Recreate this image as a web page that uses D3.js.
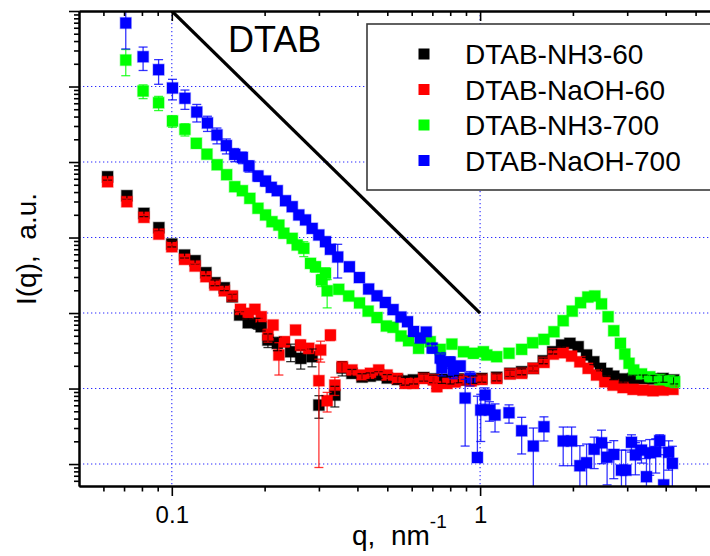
<!DOCTYPE html>
<html><head><meta charset="utf-8">
<script src="https://cdn.jsdelivr.net/npm/d3@7/dist/d3.min.js"></script>
<style>
body{margin:0;background:#fff}
svg{display:block}
text{font-family:"Liberation Sans",Arial,sans-serif;fill:#000}
</style>
</head><body>
<svg id="chart" width="710" height="556"></svg>
<script>
// ---------------- data ----------------
const seriesNames = ["DTAB-NH3-60", "DTAB-NaOH-60", "DTAB-NH3-700", "DTAB-NaOH-700"];
const seriesColors = ["#000000", "#ff0000", "#00ff00", "#0000ff"];

const qNH3_60 = [0.0619,0.0715,0.0812,0.0908,0.100,0.110,0.119,0.129,0.138,0.148,0.157,0.166,0.177,0.190,0.195,0.205,0.220,0.243,0.262,0.285,0.300,0.338,0.357,0.384,0.414,0.440,0.469,0.500,0.540,0.572,0.608,0.656,0.706,0.750,0.800,0.850,0.900,0.950,1.013,1.132,1.250,1.364,1.488,1.603,1.720,1.838,1.956,2.080,2.215,2.338,2.458,2.582,2.714,2.909,3.134,3.378,3.638,3.920,4.245];
const iNH3_60 = [6380,3580,2090,1350,820,586,493,342,252,216,164,94.1,74.4,73.1,65.9,43.9,39.7,30.7,25.1,26.4,6.04,8.20,18.7,15.9,14.2,14.6,15.1,13.8,13.2,12.6,13.0,14.0,13.4,13.2,13.0,13.4,13.0,13.2,13.6,14.1,15.9,16.7,18.5,23.3,30.7,37.7,39.7,35.8,27.8,22.6,18.5,15.9,14.6,13.4,13.6,13.6,13.4,13.6,13.0];
const eNH3_60 = [600,350,200,130,70,50,45,30,22,18,15,9,10,12,8,9,8,8,7,7,2,2.5,4,2,1.5,1.5,1.5,1.5,1.5,1.5,1.5,1.5,1.5,1.5,1.5,1.5,1.5,1.5,1.5,1.5,1.5,1.5,1.5,2,2,2.5,2.5,2.5,2,2,1.5,1.5,1.5,1.5,1.5,1.5,1.5,1.5,1.5];

const qNaOH_60 = [0.0619,0.0715,0.0812,0.0908,0.100,0.110,0.119,0.129,0.138,0.148,0.157,0.167,0.177,0.186,0.195,0.205,0.213,0.2225,0.232,0.252,0.2615,0.278,0.300,0.304,0.319,0.327,0.338,0.357,0.384,0.414,0.441,0.469,0.499,0.538,0.572,0.608,0.656,0.706,0.724,0.780,0.830,0.881,0.935,1.013,1.132,1.250,1.364,1.488,1.611,1.727,1.860,1.981,2.107,2.241,2.386,2.538,2.700,2.909,3.134,3.378,3.638,3.920,4.223];
const iNaOH_60 = [5480,2980,1850,1110,755,514,419,303,235,197,168,112,99.1,112,89.3,51.1,69.3,27.8,41.7,59.5,37.7,34.1,12.7,32.4,6.89,51.1,11.1,19.5,17.6,15.1,15.9,17.6,15.1,13.6,11.7,11.7,13.6,13.0,10.6,11.7,12.2,13.0,12.6,13.2,13.6,15.6,15.9,18.5,22.2,28.6,29.8,26.9,22.6,18.5,15.1,12.3,11.1,10.3,9.75,9.55,9.35,9.55,9.75];
const eNaOH_60 = [500,280,170,100,65,45,35,25,20,16,15,10,9,10,8,10,8,12.7,6,7,6,5,11.8,10,2,8,3,3,2,2,1.5,1.5,1.5,1.5,1.5,1.5,1.5,1.5,1.5,1.5,1.5,1.5,1.5,1.5,1.5,1.5,1.5,1.5,2,2,2,2,2,1.5,1.5,1.5,1,1,1,1,1,1,1];

const qNH3_700 = [0.0709,0.0807,0.0906,0.1005,0.1103,0.1201,0.1300,0.1403,0.1506,0.160,0.1694,0.1791,0.1903,0.2014,0.2113,0.2225,0.2309,0.2458,0.2551,0.2680,0.2818,0.2924,0.3058,0.3151,0.3191,0.3479,0.3748,0.4063,0.4333,0.4630,0.4965,0.5220,0.5538,0.5861,0.6316,0.6890,0.7423,0.8100,0.8830,0.9512,1.025,1.051,1.132,1.241,1.364,1.481,1.611,1.736,1.860,1.990,2.118,2.236,2.356,2.477,2.601,2.714,2.853,2.947,3.042,3.150,3.338,3.550,3.825,4.120,4.277];
const iNH3_700 = [224000,87100,61000,34900,27100,17700,12700,9200,6790,4710,4170,3300,2440,1990,1620,1460,1140,975,796,719,455,410,274,336,197,206,168,136,106,87.1,67.3,64.7,49.6,43.0,34.1,41.7,33.0,38.8,30.7,29.3,30.7,27.8,26.4,29.3,33.0,40.4,44.8,56.5,79.1,106,137,163,168,132,89.3,58.3,39.7,28.6,21.6,17.6,15.6,14.3,13.2,12.7,12.3];
const eNH3_700 = [85000,18000,13000,6000,5000,2500,1500,1000,700,500,450,350,250,200,170,150,150,110,100,160,60,60,50,60,80,20,15,12,10,8,6,6,5,4,4,5,4,5,4,4,3,3,3,3,3,3,3,3,3,4,4,5,5,4,3,2,2,2,2,2,2,2,2,2,2];

const qNaOH_700 = [0.0709,0.0807,0.0906,0.1005,0.1103,0.1205,0.1305,0.1401,0.1503,0.160,0.1694,0.178,0.1903,0.2014,0.2102,0.2198,0.2338,0.2458,0.2582,0.2715,0.2853,0.2998,0.3151,0.3270,0.3453,0.3768,0.406,0.435,0.463,0.4928,0.5220,0.5538,0.5815,0.6083,0.6396,0.669,0.699,0.7423,0.7518,0.7997,0.8196,0.862,0.8943,0.928,0.980,1.005,1.038,1.072,1.118,1.241,1.364,1.488,1.611,1.860,1.981,2.107,2.215,2.344,2.477,2.582,2.714,2.874,2.968,3.097,3.190,3.338,3.464,3.550,3.712,3.825,3.940,4.089,4.204];
const iNaOH_700 = [693000,248000,167000,95500,69800,45900,32900,22800,16500,12600,11500,8850,6530,5600,4620,4170,3070,2560,1990,1710,1320,1080,880,698,552,410,295,208,169,138,111,88.5,76.7,56.9,46.7,56.0,34.4,25.4,18.7,22.4,16.5,19.9,7.48,13.8,1.22,5.19,8.20,5.19,4.46,4.78,2.76,1.73,3.12,2.02,2.02,0.95,1.04,1.57,1.91,1.23,1.34,0.83,0.83,1.94,1.32,1.53,0.68,1.41,1.46,2.04,0.53,1.43,1.02];
const eNaOH_700 = [379000,85000,60000,29000,20000,12000,7500,5400,3700,2500,2000,1500,1000,800,600,500,400,300,250,200,150,120,100,80,261,40,30,20,15,12,10,8,8,6,6,6,5,4,4,4,3,3,5.75,3,6.7,3.2,2,1.5,1.8,1.3,1.4,1.27,1.1,1.07,1.07,0.8,0.8,0.7,0.9,0.7,0.7,0.7,0.7,0.5,0.6,0.5,0.5,0.7,0.7,0.4,0.8,0.6,0.7];

// q^-4 guide line
const guideQ = [0.1, 1];
const guideI = [1e6, 1e2];

// axis ticks & labels
const xMajorTicks = [0.1, 1];
const xTickLabels = ["0.1", "1"];
const xMinorTicks = [0.06,0.07,0.08,0.09,0.2,0.3,0.4,0.5,0.6,0.7,0.8,0.9,2,3,4,5,6];
const yMajorTicks = [1, 10, 100, 1e3, 1e4, 1e5, 1e6];
const yMinorTicks = [0.6,0.7,0.8,0.9];
[1,10,100,1e3,1e4,1e5].forEach(d => [2,3,4,5,6,7,8,9].forEach(m => yMinorTicks.push(d*m)));
const yGridValues = [1, 10, 100, 1e3, 1e4, 1e5];
const xGridValues = [0.1, 1];
const annotationText = "DTAB";
const xTitle = "q,  nm";
const xTitleSup = "-1";
const yTitle = "I(q),  a.u.";

// ---------------- drawing ----------------
const svg = d3.select("#chart");
const L = 79, R = 720, T = 11, B = 486;
const x = d3.scaleLog().domain([0.05, 6]).range([L, R]);
const y = d3.scaleLog().domain([0.512, 1e6]).range([B, T]);

svg.append("rect").attr("width", 710).attr("height", 556).attr("fill", "#fff");

svg.append("clipPath").attr("id", "plotclip")
  .append("rect").attr("x", L).attr("y", T).attr("width", R - L).attr("height", B - T);

const plot = svg.append("g").attr("clip-path", "url(#plotclip)");

// grid
plot.selectAll("line.hg").data(yGridValues).enter().append("line")
  .attr("x1", L).attr("x2", R).attr("y1", d => y(d)).attr("y2", d => y(d))
  .attr("stroke", "#2a2aff").attr("stroke-width", 1.1).attr("stroke-dasharray", "1.3,2.7");
plot.selectAll("line.vg").data(xGridValues).enter().append("line")
  .attr("y1", T).attr("y2", B).attr("x1", d => x(d)).attr("x2", d => x(d))
  .attr("stroke", "#2a2aff").attr("stroke-width", 1.1).attr("stroke-dasharray", "1.3,2.7");

// guide line
plot.append("line")
  .attr("x1", x(guideQ[0])).attr("y1", y(guideI[0]))
  .attr("x2", x(guideQ[1])).attr("y2", y(guideI[1]))
  .attr("stroke", "#000").attr("stroke-width", 3.2);

const series = [
  {q: qNH3_60, i: iNH3_60, e: eNH3_60},
  {q: qNaOH_60, i: iNaOH_60, e: eNaOH_60},
  {q: qNH3_700, i: iNH3_700, e: eNH3_700},
  {q: qNaOH_700, i: iNaOH_700, e: eNaOH_700}
].map((s, k) => ({
  color: seriesColors[k],
  pts: s.q.map((q, j) => ({q, i: s.i[j], e: s.e[j]}))
}));

const M = 11; // marker size
// markers
series.forEach(s => {
  plot.append("g").selectAll("rect").data(s.pts).enter().append("rect")
    .attr("x", d => x(d.q) - M / 2).attr("y", d => y(d.i) - M / 2)
    .attr("width", M).attr("height", M)
    .attr("fill", s.color)
    .attr("stroke", s.color).attr("stroke-opacity", 0.3).attr("stroke-width", 1.4);
});
// error bars
const cap = 4.5;
series.forEach(s => {
  const g = plot.append("g").attr("stroke", s.color).attr("stroke-width", 1.3).attr("stroke-opacity", 0.8);
  s.pts.forEach(d => {
    const yc = y(d.i);
    const yTop = y(d.i + d.e);
    const lowVal = d.i - d.e;
    const yBot = lowVal > 0 ? y(lowVal) : yc;
    g.append("line").attr("x1", x(d.q)).attr("x2", x(d.q)).attr("y1", yTop).attr("y2", yBot);
    g.append("line").attr("x1", x(d.q) - cap).attr("x2", x(d.q) + cap).attr("y1", yTop).attr("y2", yTop);
    if (lowVal > 0) g.append("line").attr("x1", x(d.q) - cap).attr("x2", x(d.q) + cap).attr("y1", yBot).attr("y2", yBot);
  });
});

// annotation
svg.append("text").attr("x", 228).attr("y", 52).attr("font-size", 36).text(annotationText);

// legend
const lg = svg.append("g");
lg.append("rect").attr("x", 367).attr("y", 24).attr("width", 360).attr("height", 166)
  .attr("fill", "#fff").attr("stroke", "#3a3a3a").attr("stroke-width", 1.6);
seriesNames.forEach((n, k) => {
  const cy = 54 + k * 35.5;
  lg.append("rect").attr("x", 424 - 5.5).attr("y", cy - 5.5).attr("width", 11).attr("height", 11).attr("fill", seriesColors[k]);
  lg.append("text").attr("x", 465).attr("y", cy + 10).attr("font-size", 28).text(n);
});

// axes
function drawAxis(gen, tx, ty) {
  const g = svg.append("g").attr("transform", `translate(${tx},${ty})`).call(gen);
  g.selectAll("path.domain").attr("stroke", "#000").attr("stroke-width", 2);
  g.selectAll(".tick line").attr("stroke", "#000").attr("stroke-width", 1.6);
  return g;
}
// bottom
const bMajor = drawAxis(d3.axisBottom(x).tickValues(xMajorTicks).tickSize(10).tickSizeOuter(0)
  .tickFormat((d, k) => xTickLabels[k]), 0, B);
bMajor.selectAll("text").attr("font-size", 24).attr("font-family", "Liberation Sans, Arial, sans-serif")
  .attr("y", 20).attr("dy", "0.72em").attr("fill", "#000");
drawAxis(d3.axisBottom(x).tickValues(xMinorTicks).tickSize(5.5).tickSizeOuter(0).tickFormat(""), 0, B);
// top (ticks inward)
drawAxis(d3.axisBottom(x).tickValues(xMajorTicks).tickSize(10).tickSizeOuter(0).tickFormat(""), 0, T);
drawAxis(d3.axisBottom(x).tickValues(xMinorTicks).tickSize(5).tickSizeOuter(0).tickFormat(""), 0, T);
// left
drawAxis(d3.axisLeft(y).tickValues(yMajorTicks).tickSize(10).tickSizeOuter(0).tickFormat(""), L, 0);
drawAxis(d3.axisLeft(y).tickValues(yMinorTicks).tickSize(5).tickSizeOuter(0).tickFormat(""), L, 0);

// axis titles
const xt = svg.append("text").attr("x", 352).attr("y", 545).attr("font-size", 28).style("white-space", "pre");
xt.append("tspan").text(xTitle);
xt.append("tspan").attr("font-size", 19).attr("dy", -17).text(xTitleSup);

svg.append("text").attr("transform", "translate(36,249) rotate(-90)").attr("text-anchor", "middle")
  .attr("font-size", 28).style("white-space", "pre").text(yTitle);
</script>
</body></html>
